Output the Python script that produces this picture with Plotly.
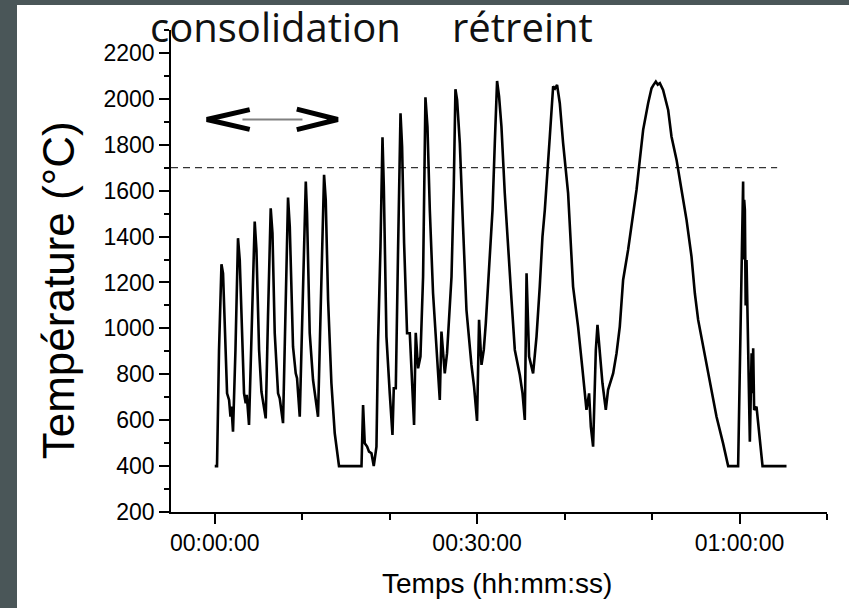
import plotly.graph_objects as go

# Time in minutes, temperature in °C
time_min = [0.0, 0.26, 0.49, 0.77, 0.95, 1.14, 1.41, 1.64, 1.80, 1.91, 2.09, 2.37, 2.66, 2.86, 3.12, 3.35,
            3.54, 3.66, 3.92, 4.20, 4.57, 4.77, 5.07, 5.34, 5.52, 5.83, 6.09, 6.40, 6.60, 6.86, 7.24, 7.43,
            7.81, 8.08, 8.38, 8.58, 8.95, 9.26, 9.41, 9.72, 10.03, 10.41, 10.55, 10.86, 11.24, 11.44, 11.81,
            12.12, 12.50, 12.69, 12.96, 13.34, 13.72, 14.21, 16.78, 16.96, 17.15, 17.42, 17.64, 17.92, 18.18,
            18.49, 18.67, 18.95, 19.18, 19.33, 19.63, 20.01, 20.32, 20.47, 20.70, 20.96, 21.24, 21.42, 21.65,
            21.99, 22.30, 22.79, 22.98, 23.25, 23.52, 23.82, 24.09, 24.32, 24.59, 24.96, 25.35, 25.73, 25.92,
            26.30, 26.56, 27.07, 27.33, 27.52, 27.71, 28.02, 28.39, 28.78, 29.35, 29.65, 29.99, 30.22, 30.50,
            30.76, 30.99, 31.25, 31.76, 32.02, 32.28, 32.51, 32.78, 33.16, 33.54, 33.93, 34.31, 34.88, 35.19,
            35.45, 35.65, 35.94, 36.40, 36.79, 37.16, 37.47, 37.74, 38.00, 38.31, 38.69, 38.90, 39.14, 39.45,
            39.83, 40.40, 40.97, 41.54, 42.05, 42.50, 42.80, 43.00, 43.26, 43.57, 43.76, 44.03, 44.33, 44.71,
            44.97, 45.55, 45.94, 46.31, 46.69, 47.26, 47.83, 48.22, 48.60, 48.98, 49.55, 49.94, 50.15, 50.43,
            50.65, 50.89, 51.26, 51.84, 52.22, 52.80, 53.37, 53.94, 54.51, 54.89, 55.27, 55.84, 56.23, 56.80,
            57.37, 58.12, 58.70, 59.84, 60.23, 60.33, 60.41, 60.47, 60.53, 60.61, 60.70, 60.80, 60.99, 61.18,
            61.38, 61.49, 61.56, 61.67, 61.94, 62.32, 62.63, 65.37]
temp_c = [400, 400, 906, 1279, 1240, 1037, 717, 688, 615, 659, 550, 906, 1393, 1298, 950, 717,
          674, 710, 579, 979, 1465, 1342, 906, 724, 681, 608, 1051, 1523, 1415, 979, 717, 695,
          587, 1051, 1570, 1443, 920, 804, 783, 615, 1095, 1640, 1502, 979, 775, 717, 615,
          1095, 1669, 1560, 1124, 761, 543, 400, 400, 666, 499, 485, 463, 456, 400,
          485, 935, 1356, 1833, 1618, 964, 717, 536, 739, 739, 1342, 1937, 1792, 1371,
          979, 979, 579, 981, 826, 877, 1225, 2007, 1879, 1516, 1153, 906, 688, 986,
          804, 892, 1225, 1618, 2042, 1995, 1807, 1443, 1080, 841, 746, 597, 1037, 841,
          906, 1022, 1182, 1516, 1807, 2078, 2010, 1879, 1589, 1342, 1124, 906, 797, 717,
          601, 1240, 877, 804, 964, 1182, 1400, 1516, 1647, 1836, 2054, 2045, 2061, 1981,
          1807, 1589, 1182, 1008, 819, 645, 717, 572, 485, 906, 1015, 892, 761, 645,
          732, 804, 892, 1008, 1211, 1342, 1502, 1603, 1734, 1865, 1981, 2046, 2060, 2075,
          2062, 2068, 2039, 1952, 1836, 1734, 1603, 1473, 1313, 1153, 1037, 920, 833, 717,
          615, 499, 400, 400, 1153, 1500, 1640, 1300, 1560, 1516, 1100, 1298, 862, 506,
          892, 717, 913, 645, 659, 528, 400, 400]

threshold_c = 1700
threshold_span = [-5, 64.3]

x_tickvals = [0, 30, 60]
x_ticktext = ["00:00:00", "00:30:00", "01:00:00"]
y_tickvals = [200, 400, 600, 800, 1000, 1200, 1400, 1600, 1800, 2000, 2200]

fig = go.Figure()
fig.add_trace(go.Scatter(x=threshold_span, y=[threshold_c, threshold_c], mode="lines",
                         line=dict(color="black", width=1, dash="7px,5px"), hoverinfo="skip"))
fig.add_trace(go.Scatter(x=time_min, y=temp_c, mode="lines",
                         line=dict(color="black", width=2.6)))

# white page over dark backdrop (left/top border)
fig.add_shape(type="rect", xref="paper", yref="paper", layer="below",
              x0=(17 - 171) / 656, x1=1.2, y0=-0.4, y1=(512 - 5) / 482,
              fillcolor="white", line=dict(width=0))

# double arrow
fig.add_shape(type="line", xref="x", yref="y", x0=3.17, x1=10.03, y0=1910, y1=1910,
              line=dict(color="#808080", width=2))
fig.add_shape(type="path", xref="x", yref="y",
              path="M 4.0 1953 L -0.91 1910 L 4.0 1867",
              line=dict(color="black", width=5))
fig.add_shape(type="path", xref="x", yref="y",
              path="M 9.38 1955 L 14.07 1910 L 9.38 1866",
              line=dict(color="black", width=5))

fig.add_annotation(text="consolidation", xref="paper", yref="paper", x=(148 - 171) / 656, y=1.007,
                   xanchor="left", yanchor="middle", showarrow=False,
                   font=dict(family="Open Sans", size=40, color="#111"))
fig.add_annotation(text="rétreint", xref="paper", yref="paper", x=(450 - 171) / 656, y=1.007,
                   xanchor="left", yanchor="middle", showarrow=False,
                   font=dict(family="Open Sans", size=40, color="#111"))

# axis titles
fig.add_annotation(text="Température (°C)", xref="paper", yref="paper", x=(58 - 171) / 656, y=0.46,
                   xanchor="center", yanchor="middle", textangle=-90, showarrow=False,
                   font=dict(family="Arial, Liberation Sans", size=44, color="black"))
fig.add_annotation(text="Temps (hh:mm:ss)", xref="paper", yref="paper", x=(497 - 171) / 656, y=-0.149,
                   xanchor="center", yanchor="middle", showarrow=False,
                   font=dict(family="Arial, Liberation Sans", size=28, color="black"))

tickfont = dict(family="Arial, Liberation Sans", size=23, color="black")
fig.update_layout(
    width=849, height=608,
    margin=dict(l=171, r=22, t=30, b=96),
    paper_bgcolor="#4a5658", plot_bgcolor="white",
    showlegend=False,
    xaxis=dict(range=[-5, 70], tickvals=x_tickvals, ticktext=x_ticktext,
               ticks="outside", ticklen=10, tickwidth=1.5, tickcolor="black",
               showline=True, linecolor="black", linewidth=1.5, showgrid=False, zeroline=False,
               tickfont=tickfont,
               minor=dict(tick0=0, dtick=10, ticks="outside", ticklen=6, tickwidth=1.5, tickcolor="black")),
    yaxis=dict(range=[200, 2300], tickvals=y_tickvals,
               ticks="outside", ticklen=10, tickwidth=1.5, tickcolor="black",
               showline=True, linecolor="black", linewidth=1.5, showgrid=False, zeroline=False,
               tickfont=tickfont,
               minor=dict(tick0=0, dtick=100, ticks="outside", ticklen=5, tickwidth=1.5, tickcolor="black")),
)

fig.write_html("out.html", config={"displayModeBar": False},
               post_script="document.body.style.margin='0';document.body.style.overflow='hidden';")
